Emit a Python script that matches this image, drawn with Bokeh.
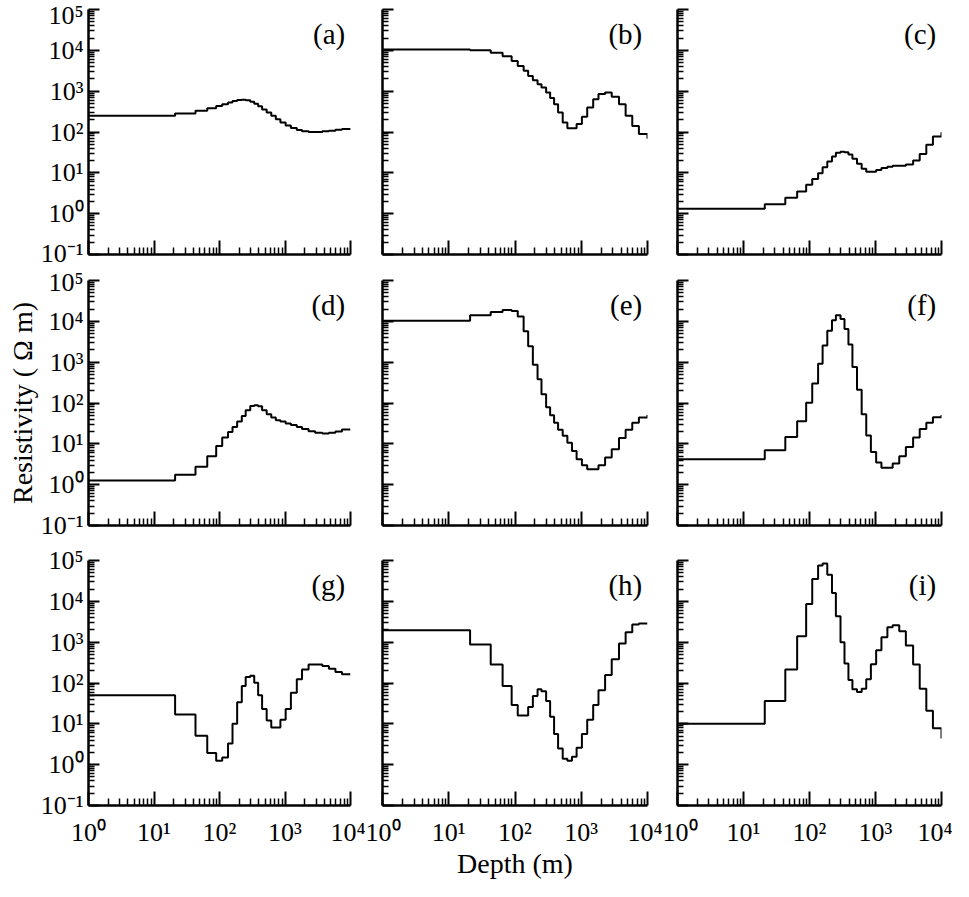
import math
from bokeh.plotting import figure
from bokeh.layouts import gridplot
from bokeh.models import Range1d, FixedTicker, CustomJSTickFormatter, Label, ColumnDataSource
from bokeh.embed import file_html
from bokeh.resources import INLINE

# ---------------- data ----------------
# layer top depths (m); last entry is the bottom of the plotted section (10^4 m)
depth = [1, 21, 43, 65, 89, 110, 135, 158, 186, 219, 251, 295, 339, 389, 447,
         525, 617, 724, 851, 1023, 1230, 1514, 1820, 2291, 2884, 3715, 4677,
         5888, 7413, 10000]

# resistivity (ohm m) of each layer; last value = half-space (drawn at 10^4 m)
rho_a = [250, 285, 330, 380, 435, 480, 525, 575, 610, 620, 600, 550, 490, 425, 355,
         300, 250, 205, 170, 145, 125, 112, 105, 100, 100, 104, 108, 113, 118, 120]
rho_b = [10500, 10000, 8700, 7200, 5500, 4150, 3150, 2350, 1860, 1480, 1230, 930, 680, 480, 300,
         170, 123, 123, 158, 235, 400, 630, 850, 930, 730, 480, 250, 140, 89, 68]
rho_c = [1.32, 1.7, 2.45, 3.5, 5.1, 7.1, 9.8, 13.7, 19, 25, 31, 33, 32, 28, 22,
         16.6, 12.6, 10.7, 10.7, 11.8, 13.2, 14.1, 15, 15, 15.9, 20, 29, 49, 78, 98]
rho_d = [1.26, 1.74, 2.75, 5.0, 8.9, 14.2, 19.6, 26, 35, 48, 66, 85, 88, 83, 66,
         53, 44, 38, 35, 31.6, 29, 26, 23, 20.4, 18.6, 18, 18.6, 20, 22.4, 22.4]
rho_e = [10400, 14000, 17000, 19000, 18000, 13200, 5700, 2450, 870, 380, 163, 79, 50, 33, 22,
         15.7, 10.7, 6.7, 4.2, 3.0, 2.4, 2.4, 3.0, 4.6, 7.4, 13.8, 22, 33, 44, 51]
rho_f = [4.2, 7.0, 14.8, 35.5, 102, 300, 910, 2570, 5900, 10700, 14000, 11400, 6500, 2700, 760,
         210, 53, 16, 6.3, 3.5, 2.6, 2.6, 3.3, 5.0, 8.4, 14.2, 23, 33, 45, 51]
rho_g = [50, 17, 5.1, 1.93, 1.25, 1.5, 3.3, 10, 34, 85, 140, 150, 102, 50, 23,
         12, 8.1, 8.1, 12.6, 23, 58, 123, 215, 285, 285, 260, 223, 186, 163, 163]
rho_h = [1960, 880, 285, 85, 29, 16, 16, 26, 48, 70, 63, 36, 15, 5.6, 2.5,
         1.4, 1.25, 1.57, 2.6, 5.6, 12.6, 29, 66, 158, 380, 930, 1750, 2700, 2850, 2850]
rho_i = [10, 36, 215, 1400, 8600, 35000, 75000, 85000, 45000, 16000, 4300, 1000, 300, 118, 70,
         60, 72, 123, 286, 630, 1320, 2330, 2600, 1860, 830, 285, 72, 21, 7.8, 4.4]

panels = [rho_a, rho_b, rho_c, rho_d, rho_e, rho_f, rho_g, rho_h, rho_i]
panel_labels = ["(a)", "(b)", "(c)", "(d)", "(e)", "(f)", "(g)", "(h)", "(i)"]

x_major = [1, 10, 100, 1000, 10000]
y_major = [0.1, 1, 10, 100, 1000, 10000, 100000]
x_minor = [m * d for d in x_major[:-1] for m in range(2, 10)]
y_minor = [m * d for d in y_major[:-1] for m in range(2, 10)]

x_title = "Depth (m)"
y_title = "Resistivity ( Ω m)"

# ---------------- style / layout ----------------
FONT = "Liberation Serif"
FW = [262, 265, 264]
FH = 245
BL = [88, 17, 15]
BR = [15, 15, 11]
BT = [9, 13, 16]
BB = [13, 19, 74]

sup_formatter = CustomJSTickFormatter(code="""
const sup = {"-":"\u207b","0":"\u2070","1":"\u00b9","2":"\u00b2","3":"\u00b3","4":"\u2074",
             "5":"\u2075","6":"\u2076","7":"\u2077","8":"\u2078","9":"\u2079"};
const e = Math.round(Math.log10(tick)).toString();
return "10" + e.split("").map(c => sup[c]).join("");
""")
blank_formatter = CustomJSTickFormatter(code="return '';")


def style_axis(ax, tick_in, minor_in, show, standoff):
    ax.axis_line_color = "black"
    ax.axis_line_width = 2.5
    ax.major_tick_line_color = "black"
    ax.major_tick_line_width = 2
    ax.minor_tick_line_color = "black"
    ax.minor_tick_line_width = 1.5
    ax.major_tick_in = tick_in
    ax.major_tick_out = 0
    ax.minor_tick_in = minor_in
    ax.minor_tick_out = 0
    ax.major_label_text_font = FONT
    ax.major_label_text_font_size = "26px"
    ax.major_label_text_color = "black"
    ax.major_label_standoff = standoff
    ax.formatter = sup_formatter if show else blank_formatter
    ax.axis_label_text_font = FONT
    ax.axis_label_text_font_size = "28px"
    ax.axis_label_text_font_style = "normal"
    ax.axis_label_text_color = "black"


figs = []
for i, rho in enumerate(panels):
    r, c = divmod(i, 3)
    p = figure(x_axis_type="log", y_axis_type="log",
               x_range=Range1d(x_major[0], x_major[-1]),
               y_range=Range1d(y_major[0], y_major[-1]),
               frame_width=FW[c], frame_height=FH,
               min_border_left=BL[c], min_border_right=BR[c],
               min_border_top=BT[r], min_border_bottom=BB[r],
               output_backend="svg", toolbar_location=None)
    p.outline_line_color = None
    p.grid.visible = False
    p.background_fill_color = "white"
    p.border_fill_color = "white"

    xa = p.xaxis[0]
    xa.ticker = FixedTicker(ticks=x_major, minor_ticks=x_minor)
    style_axis(xa, 14, 7, r == 2, 12)
    ya = p.yaxis[0]
    ya.ticker = FixedTicker(ticks=y_major, minor_ticks=y_minor)
    style_axis(ya, 11, 6, c == 0, 5)

    src = ColumnDataSource(data=dict(depth=depth, rho=rho))
    p.step(x="depth", y="rho", source=src, mode="after",
           line_color="black", line_width=2)

    p.add_layout(Label(x=10 ** 3.92, y=10 ** 4.8, text=panel_labels[i],
                       text_align="right", text_baseline="top",
                       text_font=FONT, text_font_size="29px", text_color="black"))

    if i == 3:
        ya.axis_label = y_title
        ya.axis_label_standoff = 0
    if i == 7:
        xa.axis_label = x_title
        xa.axis_label_standoff = -2
    figs.append(p)

grid = gridplot([figs[0:3], figs[3:6], figs[6:9]], toolbar_location=None)

open("out.html", "w").write(file_html(grid, INLINE))
